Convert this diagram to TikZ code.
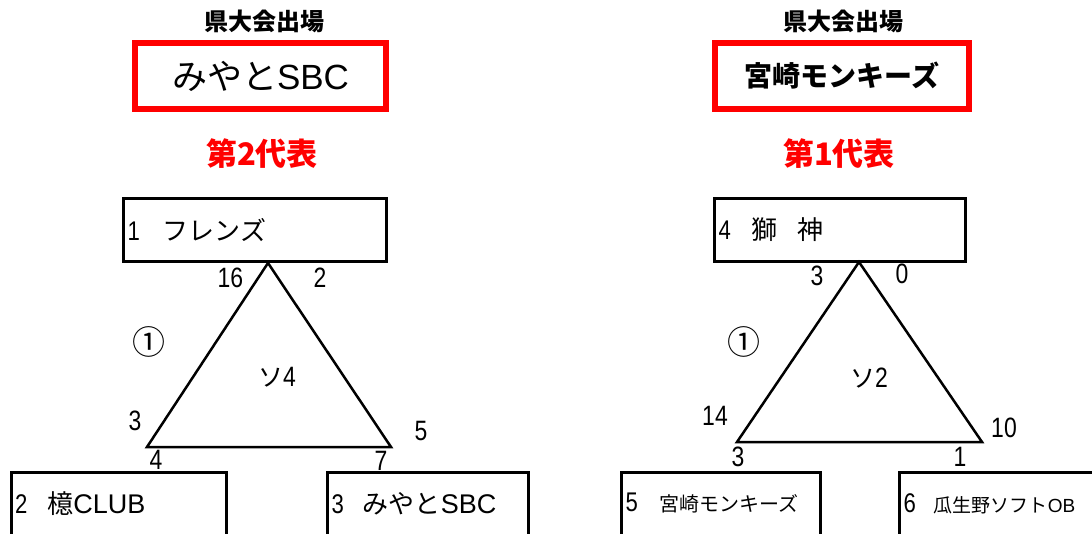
\documentclass[tikz,border=0pt]{standalone}
\usepackage{fontspec}
\setmainfont{Liberation Sans}
\newfontfamily\jp{Noto Sans CJK JP}
\newfontfamily\nm[FakeStretch=0.82]{Liberation Sans}
\newfontfamily\lt{Liberation Sans}
\newcommand\fs[1]{\fontsize{#1}{#1}\selectfont}
\begin{document}
\begin{tikzpicture}[x=1pt,y=-1pt,
  box/.style={draw, line width=3pt, minimum height=63pt, inner xsep=4pt, inner ysep=0pt, align=left, font=\fs{26}},
  redbox/.style={draw=red, line width=6pt, minimum height=66pt, inner sep=0pt},
  num/.style={inner sep=0pt, font=\nm\fs{28}},
  circ/.style={inner sep=0pt, font=\jp\fs{33}},
  head/.style={inner sep=0pt, font=\jp\bfseries\fs{24}},
  rep/.style={inner sep=0pt, text=red, font=\jp\bfseries\fs{31}},
  edge/.style={line width=2.5pt}
]
\useasboundingbox (0,0) rectangle (1092,534);
\fill[white] (0,0) rectangle (1092,534);
\clip (0,0) rectangle (1092,534);

% headings
\node[head] (hL) at (264,21) {県大会出場};
\node[head] (hR) at (843,21) {県大会出場};
\node[redbox, minimum width=251pt] (rbL) at (260.5,76) {{\jp\fs{35}みやと}{\lt\fs{35}SBC}};
\node[redbox, minimum width=254pt] (rbR) at (842,76) {{\jp\bfseries\fs{28}宮崎モンキーズ}};
\node[rep] (repL) at (262,154) {第2代表};
\node[rep] (repR) at (839,154) {第1代表};

% team boxes
\node[box, text width=255pt] (bA) at (255,230) {{\nm\fs{27}1}\hspace{23pt}{\jp フレンズ}};
\node[box, text width=243pt] (bD) at (840,230) {{\nm\fs{27}4}\hspace{21pt}{\jp 獅}\hspace{20pt}{\jp 神}};
\node[box, text width=207pt] (bB) at (118.5,503.5) {{\nm\fs{27}2}\hspace{20pt}{\jp 檍}{\lt\fs{27}CLUB}};
\node[box, text width=193pt] (bC) at (428,503.5) {{\nm\fs{27}3}\hspace{19pt}{\jp みやと}{\lt\fs{27}SBC}};
\node[box, text width=191pt] (bE) at (721,503.5) {{\nm\fs{27}5}\hspace{22pt}{\jp\fs{20}宮崎モンキーズ}};
\node[box, text width=197pt] (bF) at (1002,503.5) {{\nm\fs{27}6}\hspace{18pt}{\jp\fs{19}瓜生野ソフト}{\lt\fs{19}OB}};

% left triangle
\coordinate (Lt) at (268,263);
\coordinate (Ll) at (147,447);
\coordinate (Lr) at (391,447);
\draw[edge] (Lt) -- (Ll) -- (Lr) -- cycle;
\node[num] (L16) at (230.5,277.5) {16};
\node[num] (L2) at (320,277.5) {2};
\node[circ] (Lc) at (149,342) {①};
\node[num] (Lso) at (277,377) {{\jp\fs{25}ソ}4};
\node[num] (L3) at (135,421) {3};
\node[num] (L5) at (421,431) {5};
\node[num] (L4) at (156,460) {4};
\node[num] (L7) at (381,461) {7};

% right triangle
\coordinate (Rt) at (859,262);
\coordinate (Rl) at (737,442);
\coordinate (Rr) at (982,442);
\draw[edge] (Rt) -- (Rl) -- (Rr) -- cycle;
\node[num] (R3) at (817,276) {3};
\node[num] (R0) at (902,274) {0};
\node[circ] (Rc) at (744,342) {①};
\node[num] (Rso) at (869,378) {{\jp\fs{25}ソ}2};
\node[num] (R14) at (715,416) {14};
\node[num] (R10) at (1004,428) {10};
\node[num] (R3b) at (738,457) {3};
\node[num] (R1) at (960,457) {1};
\end{tikzpicture}
\end{document}
